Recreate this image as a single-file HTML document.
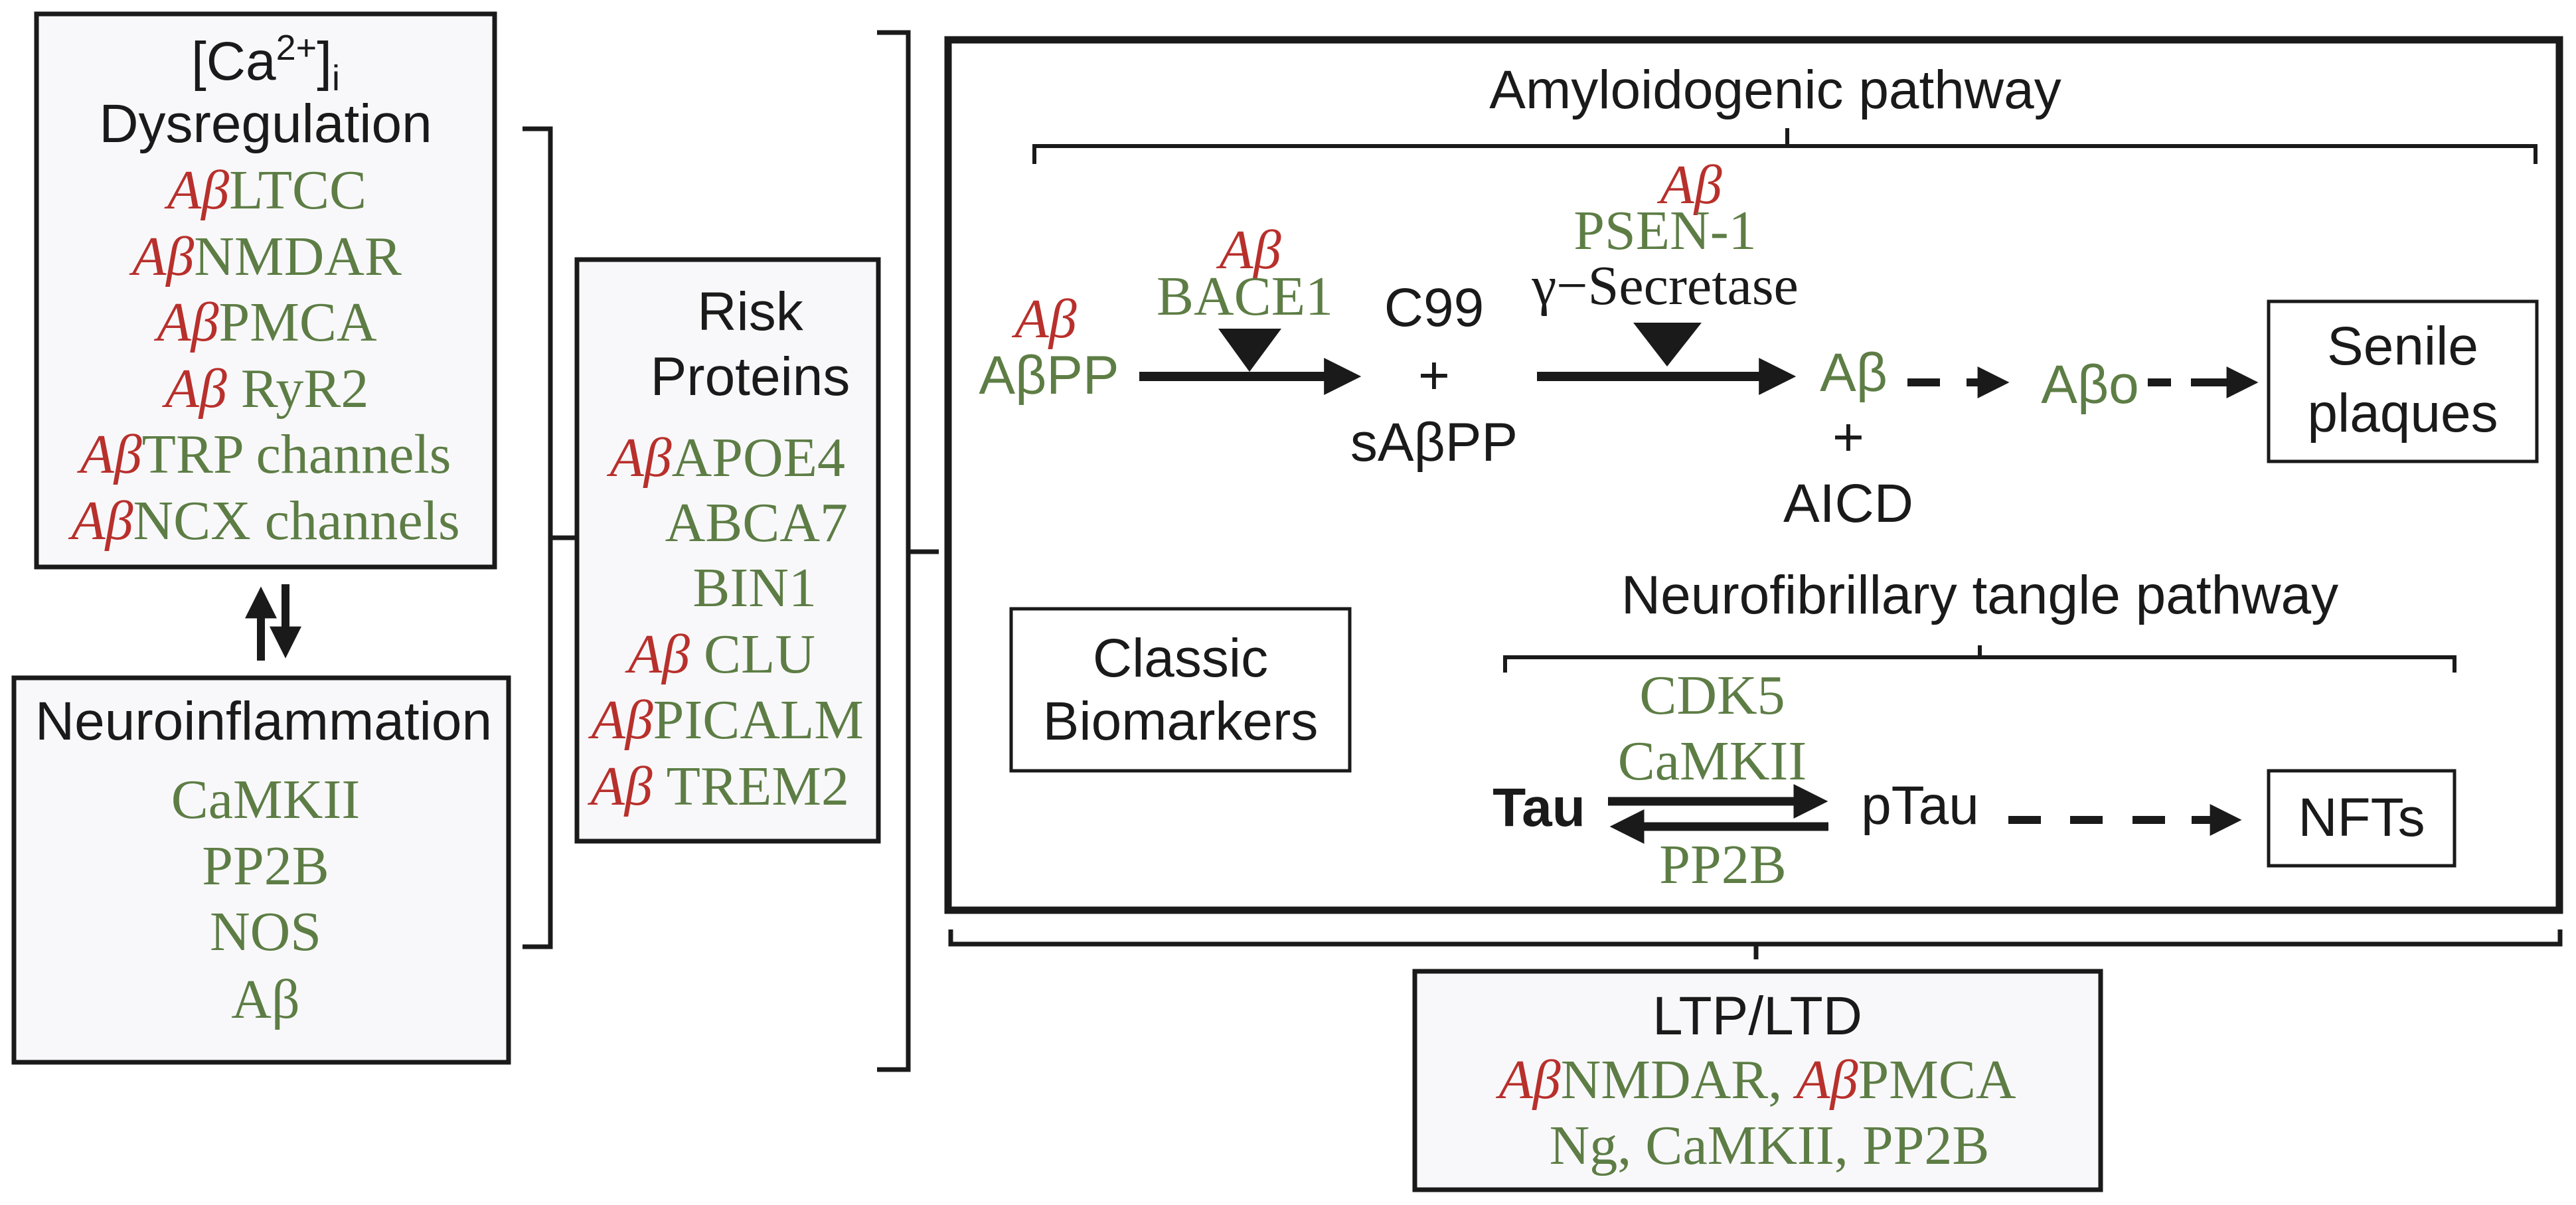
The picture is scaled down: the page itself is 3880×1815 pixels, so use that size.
<!DOCTYPE html>
<html><head><meta charset="utf-8"><style>
html,body{margin:0;padding:0;background:#fff;}
svg{display:block;}
.s{font-family:"Liberation Sans",sans-serif;fill:#1a1a1a;}
.r{font-family:"Liberation Serif",serif;fill:#5d7d45;}
.i{font-style:italic;fill:#b8302c;}
</style></head><body>
<svg width="3880" height="1815" viewBox="0 0 3880 1815" xmlns="http://www.w3.org/2000/svg">
<defs>
<marker id="ah" markerWidth="4" markerHeight="4" refX="2.2" refY="2" orient="auto" markerUnits="strokeWidth"><path d="M0,0 L4,2 L0,4 Z" fill="#1a1a1a"/></marker>
</defs>
<g stroke="#1a1a1a" fill="none">
<rect x="55" y="21" width="690" height="833" fill="#f8f8fa" stroke-width="7"/>
<rect x="21" y="1021" width="745" height="579" fill="#f8f8fa" stroke-width="7"/>
<rect x="869" y="391" width="454" height="876" fill="#f8f8fa" stroke-width="7"/>
<path d="M787,194 H829 V1426 H787 M829,810 H871" stroke-width="7"/>
<path d="M1321,49 H1368 V1611 H1321 M1368,831 H1414" stroke-width="7"/>
<rect x="1428" y="60" width="2427" height="1311" stroke-width="11"/>
<path d="M1558,247 V220 H3819 V247 M2692,220 V193" stroke-width="6"/>
<path d="M2267,1013 V990 H3697 V1013 M2982,990 V972" stroke-width="6"/>
<path d="M1432,1400 V1422 H3856 V1400 M2645,1422 V1445" stroke-width="7"/>
<rect x="3417" y="454" width="404" height="241" stroke-width="5"/>
<rect x="1523" y="917" width="510" height="244" stroke-width="5"/>
<rect x="3417" y="1161" width="280" height="143" stroke-width="5"/>
<rect x="2131" y="1463" width="1033" height="329" fill="#f8f8fa" stroke-width="7"/>
<path d="M1716,567 H2025" stroke-width="14" marker-end="url(#ah)"/>
<path d="M2315,567 H2680" stroke-width="14" marker-end="url(#ah)"/>
<path d="M2873,576 H2922" stroke-width="12"/>
<path d="M2962,576 H3005" stroke-width="12" marker-end="url(#ah)"/>
<path d="M3235,576 H3270 M3300,576 H3355" stroke-width="12"/>
<path d="M3355,576 H3380" stroke-width="12" marker-end="url(#ah)"/>
<path d="M2422,1207 H2730" stroke-width="13" marker-end="url(#ah)"/>
<path d="M2754,1245 H2448" stroke-width="13" marker-end="url(#ah)"/>
<path d="M3025,1235 H3074 M3118,1235 H3167 M3212,1235 H3261 M3301,1235 H3350" stroke-width="12"/>
<path d="M3340,1235 H3355" stroke-width="12" marker-end="url(#ah)"/>
<path d="M393,995 V905" stroke-width="12" marker-end="url(#ah)"/>
<path d="M430,880 V970" stroke-width="12" marker-end="url(#ah)"/>
</g>
<polygon points="1835,495 1930,495 1882,560" fill="#1a1a1a"/>
<polygon points="2460,486 2563,486 2511,552" fill="#1a1a1a"/>

<g class="s" font-size="82" text-anchor="middle">
<text x="400" y="120">[Ca<tspan font-size="54" dy="-30">2+</tspan><tspan dy="30">]</tspan><tspan font-size="54" dy="16">i</tspan></text>
<text x="400" y="214">Dysregulation</text>
<text x="397" y="1114">Neuroinflammation</text>
<text x="1130" y="497">Risk</text>
<text x="1130" y="595">Proteins</text>
<text x="2674" y="163">Amyloidogenic pathway</text>
<text x="2160" y="491">C99</text>
<text x="2160" y="593">+</text>
<text x="2160" y="694">sAβPP</text>
<text x="2784" y="686">+</text>
<text x="2784" y="786">AICD</text>
<text x="3619" y="549">Senile</text>
<text x="3619" y="650">plaques</text>
<text x="2982" y="924">Neurofibrillary tangle pathway</text>
<text x="1778" y="1019">Classic</text>
<text x="1778" y="1114">Biomarkers</text>
<text x="2318" y="1244" font-weight="bold">Tau</text>
<text x="2892" y="1241">pTau</text>
<text x="3557" y="1259">NFTs</text>
<text x="2647" y="1558">LTP/LTD</text>
</g>
<g class="s" font-size="82" text-anchor="middle" style="fill:#5d7d45">
<text x="1580" y="593">AβPP</text>
<text x="2792" y="589">Aβ</text>
<text x="3148" y="607">Aβo</text>
</g>
<g class="r" font-size="84" text-anchor="middle">
<text x="402" y="314"><tspan class="i">Aβ</tspan>LTCC</text>
<text x="402" y="414"><tspan class="i">Aβ</tspan>NMDAR</text>
<text x="402" y="513"><tspan class="i">Aβ</tspan>PMCA</text>
<text x="402" y="613"><tspan class="i">Aβ</tspan> RyR2</text>
<text x="400" y="712"><tspan class="i">Aβ</tspan>TRP channels</text>
<text x="400" y="812"><tspan class="i">Aβ</tspan>NCX channels</text>
<text x="400" y="1232">CaMKII</text>
<text x="400" y="1332">PP2B</text>
<text x="400" y="1431">NOS</text>
<text x="400" y="1533">Aβ</text>
<text x="1575" y="508" class="i">Aβ</text>
<text x="1883" y="404" class="i">Aβ</text>
<text x="1875" y="474">BACE1</text>
<text x="2547" y="306" class="i">Aβ</text>
<text x="2508" y="375">PSEN-1</text>
<text x="2508" y="458" style="fill:#1a1a1a">γ−Secretase</text>
<text x="2579" y="1075">CDK5</text>
<text x="2579" y="1174">CaMKII</text>
<text x="2595" y="1330">PP2B</text>
<text x="2647" y="1654"><tspan class="i">Aβ</tspan>NMDAR, <tspan class="i">Aβ</tspan>PMCA</text>
<text x="2665" y="1753">Ng, CaMKII, PP2B</text>
</g>
<g class="r" font-size="84" text-anchor="end">
<text x="1273" y="717"><tspan class="i">Aβ</tspan>APOE4</text>
<text x="1277" y="815">ABCA7</text>
<text x="1230" y="913">BIN1</text>
<text x="1228" y="1013"><tspan class="i">Aβ</tspan> CLU</text>
<text x="1301" y="1112"><tspan class="i">Aβ</tspan>PICALM</text>
<text x="1279" y="1212"><tspan class="i">Aβ</tspan> TREM2</text>
</g>
</svg>
</body></html>
